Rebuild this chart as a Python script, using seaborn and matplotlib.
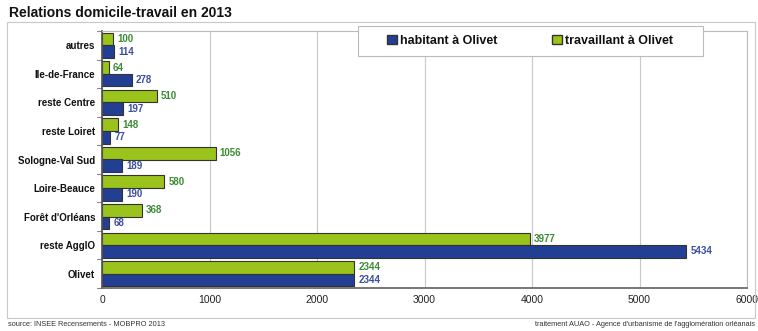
import matplotlib
matplotlib.use("Agg")
import matplotlib.pyplot as plt
import matplotlib.patches as mpatches
import seaborn as sns
import pandas as pd

# Flux domicile-travail pour Olivet, 2013
categories = ["autres", "Ile-de-France", "reste Centre", "reste Loiret",
              "Sologne-Val Sud", "Loire-Beauce", "Forêt d'Orléans",
              "reste AgglO", "Olivet"]
habitant = [114, 278, 197, 77, 189, 190, 68, 5434, 2344]
travaillant = [100, 64, 510, 148, 1056, 580, 368, 3977, 2344]
series_names = ["habitant à Olivet", "travaillant à Olivet"]
xticks = [0, 1000, 2000, 3000, 4000, 5000, 6000]

GREEN = "#9ac31c"
BLUE = "#233f94"
GREEN_TXT = "#3b8a35"
BLUE_TXT = "#3a4d9e"

df = pd.DataFrame({
    "zone": categories * 2,
    "valeur": travaillant + habitant,
    "serie": [series_names[1]] * len(categories) + [series_names[0]] * len(categories),
})

sns.set_theme(style="white")
plt.rcParams["font.family"] = ["Liberation Sans", "DejaVu Sans"]

fig = plt.figure(figsize=(7.58, 3.31), dpi=100)
W, H = 758, 331
AX_L, AX_R, AX_T, AX_B = 102, 747, 31, 288
ax = fig.add_axes([AX_L / W, 1 - AX_B / H, (AX_R - AX_L) / W, (AX_B - AX_T) / H])

sns.barplot(data=df, y="zone", x="valeur", hue="serie", order=categories,
            hue_order=[series_names[1], series_names[0]],
            palette=[GREEN, BLUE], orient="h", width=0.88, ax=ax,
            edgecolor="#333333", linewidth=0.8, legend=False, saturation=1)

ax.set_xlim(0, 6000)
ax.set_xticks(xticks)
ax.set_xticklabels([str(t) for t in xticks], fontsize=7.5, color="#222222")
ax.set_xlabel("")
ax.set_ylabel("")
ax.tick_params(axis="y", labelsize=7, length=0, pad=5)
for lbl in ax.get_yticklabels():
    lbl.set_fontweight("bold")
    lbl.set_color("#111111")
ax.tick_params(axis="x", length=0, pad=5)
ax.xaxis.grid(True, color="#c8c8c8", linewidth=0.8)
ax.set_axisbelow(True)

# Small separators between categories on the left axis
for i in range(len(categories) + 1):
    ax.plot([-0.008, 0], [i - 0.5, i - 0.5], transform=ax.get_yaxis_transform(),
            color="#888888", linewidth=0.8, clip_on=False, scalex=False, scaley=False)
ax.set_ylim(len(categories) - 0.5, -0.5)

for side in ["top", "right"]:
    ax.spines[side].set_color("#bbbbbb")
    ax.spines[side].set_linewidth(0.8)
ax.spines["left"].set_color("#555555")
ax.spines["bottom"].set_color("#666666")

# Value labels
for cont, col in zip(ax.containers, [GREEN_TXT, BLUE_TXT]):
    ax.bar_label(cont, labels=[f"{int(v)}" for v in cont.datavalues],
                 padding=3, fontsize=7, fontweight="bold", color=col)

# Legend: white box with a light border, entries centred inside
ax_h = AX_B - AX_T
ax_w = AX_R - AX_L
legend_box = mpatches.Rectangle((358 / W, 1 - 56 / H), (703 - 358) / W, 30 / H,
                                transform=fig.transFigure, facecolor="white",
                                edgecolor="#bbbbbb", linewidth=0.8,
                                clip_on=False, zorder=4.9)
ax.add_artist(legend_box)
handles = [mpatches.Patch(facecolor=BLUE, edgecolor="#333333", label=series_names[0]),
           mpatches.Patch(facecolor=GREEN, edgecolor="#333333", label=series_names[1])]
leg = ax.legend(handles=handles, loc="center",
                bbox_to_anchor=((530 - AX_L) / ax_w, (AX_B - 41) / ax_h),
                ncol=2, frameon=False,
                prop={"weight": "bold", "size": 9}, handlelength=0.75,
                handleheight=0.75, handletextpad=0.25, borderaxespad=0,
                columnspacing=4.4, borderpad=0.75)
leg.set_zorder(5)
for t in leg.get_texts():
    t.set_color("#111111")

# Outer panel frame
fig.patches.append(mpatches.Rectangle((7 / W, 1 - 318 / H), (755 - 7) / W, (318 - 22) / H,
                                      transform=fig.transFigure, fill=False,
                                      edgecolor="#c8c8c8", linewidth=0.8))

fig.text(9 / W, 1 - 13 / H, "Relations domicile-travail en 2013",
         fontsize=10, fontweight="bold", color="#111111", va="center", ha="left")
fig.text(8 / W, 1 - 325 / H, "source: INSEE Recensements - MOBPRO 2013",
         fontsize=5.3, color="#333333", va="center", ha="left")
fig.text(755 / W, 1 - 325 / H,
         "traitement AUAO - Agence d'urbanisme de l'agglomération orléanais",
         fontsize=5.3, color="#333333", va="center", ha="right")

fig.savefig("out.png", dpi=100)
